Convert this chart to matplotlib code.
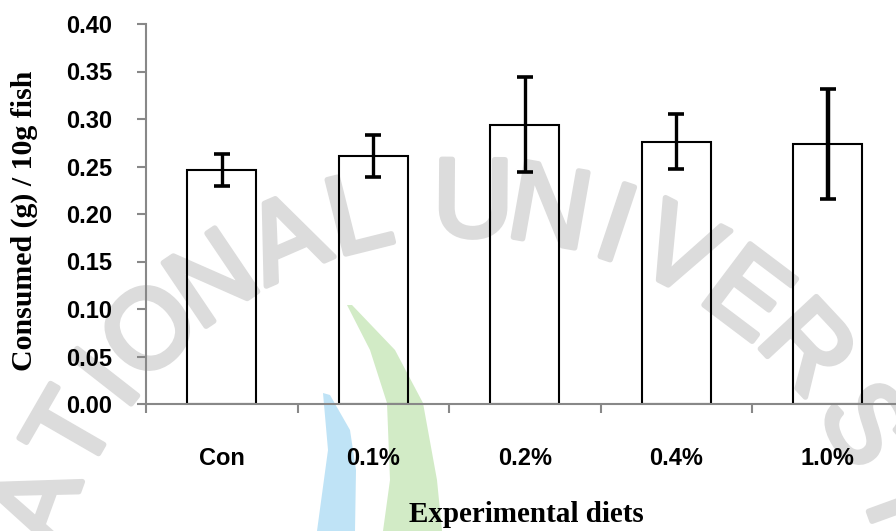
import numpy as np
import matplotlib.pyplot as plt
import matplotlib.patheffects as pe
from matplotlib.patches import Polygon

# feed consumption per diet group
diets = ["Con", "0.1%", "0.2%", "0.4%", "1.0%"]
consumed = [0.246, 0.261, 0.294, 0.276, 0.274]
sd = [0.017, 0.022, 0.050, 0.029, 0.058]
yticks = [0.00, 0.05, 0.10, 0.15, 0.20, 0.25, 0.30, 0.35, 0.40]

W, H = 896, 531
fig = plt.figure(figsize=(W / 100, H / 100), dpi=100)
ax = fig.add_axes([146 / W, 127 / H, 757.5 / W, 380 / H])
ax.patch.set_alpha(0)

x = np.arange(len(diets))
# open bars so the background logo shows through
ax.bar(x, consumed, width=0.455, facecolor="none", edgecolor="black", linewidth=1.5, zorder=2)
for i in range(len(diets)):
    lw = 3.2 if sd[i] > 0.055 else 2.4
    ax.errorbar(x[i], consumed[i], yerr=sd[i], fmt="none", ecolor="black",
                elinewidth=lw, capsize=5.5, capthick=2.6, zorder=3)

ax.set_xlim(-0.5, len(diets) - 0.5)
ax.set_ylim(0, 0.40)
ax.set_yticks(yticks)
ax.set_yticklabels(["%.2f" % v for v in yticks])

# ticks between the groups, labels under the bars
ax.set_xticks(np.arange(-0.5, len(diets), 1.0))
ax.set_xticklabels([])
ax.set_xticks(x, minor=True)
ax.set_xticklabels(diets, minor=True)
ax.tick_params(axis="x", which="minor", length=0, pad=31)
ax.tick_params(axis="x", which="major", length=6.5, width=1.5, color="#888888")
ax.tick_params(axis="y", length=6.5, width=1.5, color="#888888", pad=18)

for lab in ax.get_xticklabels(minor=True) + ax.get_yticklabels():
    lab.set_fontfamily("Liberation Sans")
    lab.set_fontweight("bold")
    lab.set_fontsize(17)

for s in ["top", "right"]:
    ax.spines[s].set_visible(False)
for s in ["left", "bottom"]:
    ax.spines[s].set_color("#888888")
    ax.spines[s].set_linewidth(1.5)

fig.text(24 / W, 1 - 221 / H, "Consumed (g) / 10g fish", rotation=90,
         ha="center", va="center", fontfamily="Liberation Serif",
         fontweight="bold", fontsize=21.5)
fig.text(526 / W, 1 - 515 / H, "Experimental diets", ha="center", va="center",
         fontfamily="Liberation Serif", fontweight="bold", fontsize=21)

# faint logo watermark behind the chart
def px(pts):
    return [(a / W, 1 - b / H) for a, b in pts]

green = px([(347, 305), (370, 350), (387, 403), (390, 480), (383, 531),
            (442, 531), (437, 480), (423, 403), (395, 350), (352, 305)])
blue = px([(323, 393), (328, 450), (317, 531), (355, 531), (356, 470),
           (350, 430), (330, 395)])
fig.patches.append(Polygon(green, closed=True, transform=fig.transFigure,
                           facecolor="#d2ebc6", edgecolor="none", zorder=-2))
fig.patches.append(Polygon(blue, closed=True, transform=fig.transFigure,
                           facecolor="#bfe3f6", edgecolor="none", zorder=-2))

letters = "ATIONALUNIVERSI"
angles = [160, 150, 142, 134, 124, 113.5, 104, 89.6, 80, 71.5, 63, 53, 43, 31, 20]
cx, cy, r = 470, 662, 455
soft = [pe.withStroke(linewidth=4, foreground="#dcdcdc")]
for ch, deg in zip(letters, angles):
    a = np.deg2rad(deg)
    lx = cx + r * np.cos(a)
    ly = cy - r * np.sin(a)
    fig.text(lx / W, 1 - ly / H, ch, rotation=deg - 90,
             ha="center", va="center", fontsize=80, fontfamily="Liberation Sans",
             color="#dcdcdc", path_effects=soft, zorder=-1)

fig.savefig("out.png", dpi=100)
